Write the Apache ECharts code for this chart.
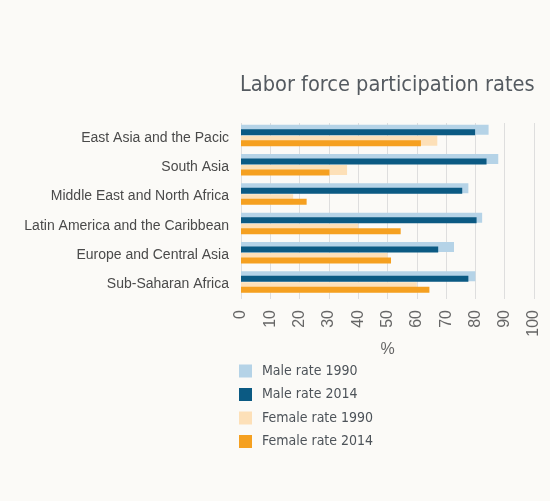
<!DOCTYPE html>
<html>
<head>
<meta charset="utf-8">
<script src="https://cdn.jsdelivr.net/npm/echarts@6/dist/echarts.min.js"></script>
<style>
  html, body { margin: 0; padding: 0; background: #fbfaf7; }
  #chart { width: 550px; height: 501px; }
</style>
</head>
<body>
<div id="chart"></div>
<script>
// ---- data ----
const regions = [
  "East Asia and the Pacic",
  "South Asia",
  "Middle East and North Africa",
  "Latin America and the Caribbean",
  "Europe and Central Asia",
  "Sub-Saharan Africa",
];
const male1990 = [84.5, 87.8, 77.6, 82.3, 72.7, 80.0];
const male2014 = [79.9, 83.8, 75.5, 80.4, 67.3, 77.6];
const female1990 = [67.0, 36.2, 17.8, 40.0, 50.0, 60.0];
const female2014 = [61.4, 30.2, 22.4, 54.5, 51.2, 64.3];
const xTicks = { min: 0, max: 100, interval: 10 };

const C = {
  male1990: "#b5d3e7",
  male2014: "#0b5a83",
  female1990: "#fde0b8",
  female2014: "#f5a020",
};

const chart = echarts.init(document.getElementById("chart"));

const labelFont = "'Liberation Sans', Arial, sans-serif";
const narrowFont = "'Liberation Sans Narrow', 'DejaVu Sans Condensed', 'Liberation Sans', sans-serif";

chart.setOption({
  backgroundColor: "#fbfaf7",
  animation: false,
  title: {
    text: "Labor force participation rates",
    left: 235,
    top: 69,
    textStyle: {
      fontFamily: narrowFont,
      fontSize: 21.6,
      fontWeight: "normal",
      color: "#545a60",
    },
  },
  legend: {
    orient: "vertical",
    left: 234,
    top: 359,
    itemWidth: 13,
    itemHeight: 13,
    itemGap: 9.5,
    icon: "rect",
    data: ["Male rate 1990", "Male rate 2014", "Female rate 1990", "Female rate 2014"],
    textStyle: { fontFamily: narrowFont, fontSize: 14, color: "#4d5359", padding: [0, 0, 0, 5] },
  },
  grid: [
    { left: 241, right: 16, top: 123, bottom: 202 },
    { left: 241, right: 16, top: 120.5, bottom: 204.5 },
  ],
  xAxis: [
    {
      gridIndex: 0,
      type: "value",
      ...xTicks,
      name: "%",
      nameLocation: "middle",
      nameGap: 43,
      nameMoveOverlap: false,
      nameTextStyle: { fontFamily: labelFont, fontSize: 16, color: "#666" },
      axisLine: { show: false },
      axisTick: { show: false },
      axisLabel: { rotate: 90, margin: 11, fontFamily: labelFont, fontSize: 16, color: "#666" },
      splitLine: { show: true, lineStyle: { color: "#dedede", width: 1 } },
    },
    {
      gridIndex: 1,
      type: "value",
      ...xTicks,
      show: false,
    },
  ],
  yAxis: [
    {
      gridIndex: 0,
      type: "category",
      data: regions,
      inverse: true,
      axisLine: { show: false },
      axisTick: { show: false },
      axisLabel: { margin: 12, fontFamily: labelFont, fontSize: 14, color: "#4a4a4a" },
    },
    {
      gridIndex: 1,
      type: "category",
      data: regions,
      inverse: true,
      show: false,
    },
  ],
  series: [
    {
      name: "Male rate 1990", type: "bar", xAxisIndex: 1, yAxisIndex: 1,
      data: male1990, barWidth: 10, barGap: "10%", z: 1,
      itemStyle: { color: C.male1990 },
    },
    {
      name: "Female rate 1990", type: "bar", xAxisIndex: 1, yAxisIndex: 1,
      data: female1990, barWidth: 10, barGap: "10%", z: 1,
      itemStyle: { color: C.female1990 },
    },
    {
      name: "Male rate 2014", type: "bar", xAxisIndex: 0, yAxisIndex: 0,
      data: male2014, barWidth: 6, barGap: "83%", z: 3,
      itemStyle: { color: C.male2014 },
    },
    {
      name: "Female rate 2014", type: "bar", xAxisIndex: 0, yAxisIndex: 0,
      data: female2014, barWidth: 6, barGap: "83%", z: 3,
      itemStyle: { color: C.female2014 },
    },
  ],
});
</script>
</body>
</html>
